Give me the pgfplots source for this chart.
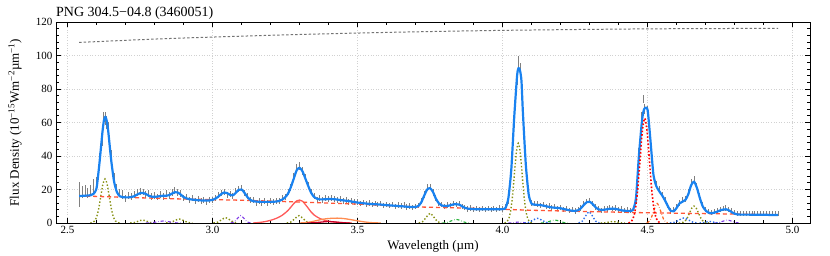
\documentclass[border=0pt]{standalone}
\usepackage{fontspec}
\setmainfont{Liberation Serif}
\usepackage{pgfplots}
\pgfplotsset{compat=1.18}
\usepackage{pgfplotstable}

\definecolor{modelblue}{RGB}{25,130,240}
\definecolor{contred}{RGB}{255,85,55}
\definecolor{olivec}{RGB}{135,145,20}
\definecolor{pahred}{RGB}{255,90,90}
\definecolor{pahorange}{RGB}{255,140,80}
\definecolor{darkredc}{RGB}{200,0,40}
\definecolor{purplec}{RGB}{125,55,230}
\definecolor{greenc}{RGB}{40,180,60}
\definecolor{bluedot}{RGB}{45,110,235}
\definecolor{orangedd}{RGB}{255,100,30}

\pgfplotstableread{
x m d e
2.54 16.1 17.0 7.5
2.55 16.2 18.5 3.5
2.56 16.3 19.5 3.3
2.57 16.4 18.0 3.0
2.58 16.6 19.8 3.0
2.59 17.5 22.0 4.5
2.60 21.0 24.0 3.5
2.61 36.0 38.0 4.0
2.62 54.0 50.0 4.0
2.625 61.0 62.0 4.0
2.63 63.5 62.5 4.0
2.635 61.0 60.0 4.0
2.64 55.0 56.0 4.0
2.65 38.0 40.0 3.5
2.66 25.0 27.0 3.0
2.67 18.5 21.0 2.5
2.68 16.0 18.0 2.5
2.69 15.4 17.0 2.5
2.70 15.3 14.5 2.0
2.71 15.3 16.5 2.0
2.72 15.5 16.0 2.0
2.73 16.0 17.0 2.0
2.74 17.0 18.0 2.0
2.75 17.8 19.0 2.0
2.76 18.0 18.5 2.0
2.77 17.3 17.0 2.0
2.78 16.3 17.5 2.0
2.79 15.7 16.0 2.0
2.80 15.6 16.5 2.0
2.81 15.8 15.5 2.0
2.82 16.1 17.0 2.0
2.83 16.3 16.0 2.0
2.84 16.3 17.5 2.0
2.85 16.6 16.5 2.0
2.86 17.6 18.0 2.0
2.87 18.4 19.5 2.0
2.88 18.2 18.0 2.0
2.89 17.0 17.5 2.0
2.90 15.5 15.0 2.0
2.91 14.7 15.5 1.8
2.92 14.2 14.0 1.8
2.93 14.0 14.8 1.8
2.94 13.8 13.0 1.8
2.95 13.6 14.2 1.8
2.96 13.5 13.0 1.8
2.97 13.4 13.8 1.8
2.98 13.4 12.8 1.8
2.99 13.5 14.0 1.8
3.00 13.8 13.5 1.8
3.01 14.6 15.0 1.8
3.02 15.8 16.5 1.8
3.03 17.3 18.0 1.8
3.04 18.2 18.5 1.8
3.05 17.9 17.0 1.8
3.06 16.8 17.5 1.8
3.07 16.5 16.0 1.8
3.08 18.0 19.0 1.8
3.09 19.8 20.5 1.8
3.10 20.0 21.0 1.8
3.11 18.0 18.0 1.8
3.12 15.5 16.0 1.8
3.13 13.8 13.5 1.8
3.14 13.0 13.5 1.8
3.15 12.8 12.0 1.8
3.16 12.7 13.2 1.8
3.17 12.6 12.0 1.8
3.18 12.6 13.0 1.8
3.19 12.6 12.2 1.8
3.20 12.6 13.0 1.8
3.21 12.7 12.4 1.8
3.22 12.8 13.4 1.8
3.23 13.2 13.0 1.8
3.24 14.0 14.8 1.8
3.25 15.3 15.5 1.8
3.26 17.5 18.5 2.0
3.27 21.5 21.0 2.0
3.28 26.5 27.5 2.2
3.29 31.5 33.0 2.2
3.30 33.0 34.0 2.2
3.31 30.8 31.0 2.2
3.32 26.5 27.0 2.0
3.33 22.0 22.5 2.0
3.34 18.0 18.5 2.0
3.35 15.5 16.0 1.8
3.36 14.5 14.0 1.8
3.37 14.1 14.8 1.8
3.38 14.1 14.0 1.8
3.39 14.2 15.0 1.8
3.40 14.3 14.2 1.8
3.41 14.3 15.0 1.8
3.42 14.2 14.5 1.8
3.43 14.0 13.6 1.8
3.44 13.7 14.4 1.8
3.45 13.5 13.2 1.8
3.46 13.3 13.8 1.8
3.47 13.1 12.8 1.8
3.48 12.8 13.4 1.8
3.49 12.5 12.4 1.8
3.50 12.2 12.8 1.8
3.51 12.0 11.6 1.6
3.52 11.8 12.2 1.6
3.53 11.6 11.4 1.6
3.54 11.4 12.0 1.6
3.55 11.3 11.0 1.6
3.56 11.2 11.6 1.6
3.57 11.1 11.0 1.6
3.58 11.0 11.8 1.6
3.59 10.8 10.6 1.6
3.60 10.7 11.2 1.6
3.61 10.5 10.4 1.6
3.62 10.4 11.0 1.6
3.63 10.3 10.0 1.6
3.64 10.1 10.8 1.6
3.65 10.0 10.2 1.6
3.66 9.9 10.8 1.6
3.67 9.7 9.6 1.6
3.68 9.6 10.2 1.6
3.69 9.5 9.4 1.6
3.70 9.5 10.0 1.6
3.71 10.2 10.5 1.6
3.72 12.5 13.0 1.8
3.73 16.5 17.0 2.0
3.74 20.0 21.0 2.0
3.75 20.8 21.5 2.0
3.76 18.5 18.0 2.0
3.77 14.5 15.0 1.8
3.78 11.8 11.5 1.6
3.79 10.5 11.0 1.6
3.80 10.1 10.0 1.6
3.81 10.2 10.8 1.6
3.82 10.6 10.4 1.6
3.83 11.1 11.6 1.6
3.84 11.2 11.0 1.6
3.85 11.0 11.6 1.6
3.86 10.0 10.0 1.6
3.87 9.0 9.4 1.6
3.88 8.6 8.4 1.6
3.89 8.4 9.0 1.6
3.90 8.3 8.2 1.6
3.91 8.2 8.8 1.6
3.92 8.2 8.0 1.6
3.93 8.2 8.8 1.6
3.94 8.2 8.0 1.6
3.95 8.2 8.6 1.6
3.96 8.2 8.2 1.6
3.97 8.2 8.8 1.6
3.98 8.2 8.0 1.6
3.99 8.2 9.0 1.6
4.00 8.3 8.4 1.6
4.01 9.0 9.6 1.6
4.02 15.0 13.0 1.8
4.03 32.0 34.0 2.5
4.04 63.0 60.0 3.0
4.05 88.0 86.0 3.5
4.055 92.5 96.5 3.3
4.06 91.0 92.0 3.5
4.065 85.0 84.0 3.5
4.07 66.0 68.0 3.0
4.08 35.0 37.0 3.0
4.09 17.0 20.0 2.5
4.10 11.5 12.0 1.8
4.11 11.0 11.5 1.6
4.12 10.8 11.4 1.6
4.13 10.7 10.4 1.6
4.14 10.4 11.0 1.6
4.15 10.0 10.0 1.6
4.16 9.6 10.2 1.6
4.17 9.3 9.2 1.6
4.18 9.1 9.8 1.6
4.19 9.0 8.8 1.6
4.20 8.8 9.4 1.6
4.21 8.4 8.2 1.6
4.22 8.0 8.6 1.6
4.23 7.6 7.6 1.6
4.24 7.3 8.0 1.6
4.25 7.2 7.2 1.6
4.26 7.6 8.2 1.6
4.27 8.8 9.0 1.6
4.28 10.8 11.4 1.6
4.29 12.4 13.0 1.6
4.30 12.7 13.4 1.6
4.31 11.4 11.6 1.6
4.32 9.5 9.6 1.6
4.33 8.2 8.8 1.6
4.34 7.8 7.6 1.6
4.35 7.9 8.6 1.6
4.36 8.2 8.4 1.6
4.37 8.5 9.2 1.6
4.38 8.6 8.6 1.6
4.39 8.4 9.0 1.6
4.40 8.0 8.0 1.6
4.41 7.6 8.4 1.6
4.42 7.3 7.4 1.6
4.43 7.2 8.0 1.6
4.44 7.2 7.6 1.6
4.45 8.0 8.8 1.6
4.46 15.0 14.0 2.0
4.47 40.0 42.0 2.5
4.48 60.0 63.0 3.0
4.485 66.0 74.0 2.5
4.49 68.5 68.0 3.0
4.50 67.5 67.0 3.0
4.51 49.0 52.0 3.0
4.52 29.0 31.0 2.5
4.53 22.0 23.0 2.0
4.54 19.0 20.0 2.0
4.55 16.5 17.0 1.8
4.56 13.5 14.0 1.6
4.57 10.0 10.5 1.6
4.58 7.2 7.5 1.6
4.59 7.0 8.0 1.6
4.60 9.0 10.0 1.6
4.61 11.7 12.0 1.6
4.62 12.7 13.5 1.8
4.63 13.7 14.5 1.8
4.64 17.0 18.0 2.0
4.65 22.5 24.0 2.2
4.66 24.7 26.0 2.2
4.67 21.0 22.0 2.0
4.68 15.0 16.0 2.0
4.69 10.0 10.5 1.8
4.70 7.5 8.2 1.6
4.71 6.2 6.8 1.6
4.72 5.8 6.4 1.6
4.73 6.2 7.0 1.6
4.74 6.8 7.4 1.6
4.75 7.5 8.2 1.6
4.76 8.0 8.6 1.6
4.77 8.2 9.0 1.6
4.78 7.6 8.2 1.6
4.79 6.5 7.2 1.6
4.80 5.6 6.2 1.6
4.81 5.1 5.8 1.6
4.82 5.0 5.6 1.5
4.83 5.0 5.8 1.5
4.84 5.0 5.6 1.5
4.85 5.0 5.8 1.5
4.86 4.9 5.6 1.5
4.87 4.9 5.8 1.5
4.88 4.9 5.6 1.5
4.89 4.9 5.7 1.5
4.90 4.9 5.6 1.5
4.91 4.9 5.8 1.5
4.92 4.8 5.6 1.5
4.93 4.8 5.6 1.5
4.94 4.8 5.7 1.5
4.95 4.8 5.6 1.5
}\spec

\begin{document}
\begin{tikzpicture}
\begin{axis}[
  scale only axis,
  width=754pt, height=201pt,
  xmin=2.46, xmax=5.06, ymin=0, ymax=120,
  xtick={2.5,3.0,3.5,4.0,4.5,5.0},
  ytick={0,20,40,60,80,100,120},
  minor x tick num=4, minor y tick num=4,
  tick align=inside,
  major tick length=5pt, minor tick length=3pt,
  tick style={black, line width=0.6pt},
  axis line style={line width=0.9pt},
  grid=major,
  grid style={black!18, line width=0.5pt, dash pattern=on 1pt off 1.6pt},
  /pgf/number format/assume math mode=true,
  tick label style={font=\fontsize{11}{12}\selectfont},
  xticklabel style={/pgf/number format/.cd, fixed, fixed zerofill, precision=1},
  yticklabel style={/pgf/number format/.cd, fixed, precision=0},
  xlabel={Wavelength (µm)},
  ylabel={Flux Density (10\textsuperscript{−15}Wm\textsuperscript{−2}µm\textsuperscript{−1})},
  every axis x label/.style={at={(axis description cs:0.5,-0.117)}, anchor=center, font=\fontsize{13}{14}\selectfont},
  every axis y label/.style={at={(axis description cs:-0.0544,0.5)}, rotate=90, anchor=center, font=\fontsize{13}{14}\selectfont},
  title={PNG 304.5−04.8 (3460051)},
  every axis title/.style={at={(axis description cs:0,1)}, anchor=base west, yshift=5pt, inner sep=0pt, font=\fontsize{14}{16}\selectfont},
  clip=true,
]
\coordinate (sw) at (rel axis cs:0,0);
\coordinate (ne) at (rel axis cs:1,1);

% top gray dotted curve
\addplot[black!55, line width=1pt, dash pattern=on 2.5pt off 2pt, smooth] coordinates {
(2.54,107.8) (2.8,109.8) (3.0,111.0) (3.25,112.3) (3.5,113.4) (3.75,114.3) (4.0,115.0) (4.25,115.5) (4.5,115.9) (4.75,116.1) (4.95,116.2)};

% observed data with error bars
\addplot[draw=none, mark=none, error bars/.cd, y dir=both, y explicit, error mark=none,
  error bar style={draw=gray, line width=0.9pt}] table[x=x, y=d, y error=e]{\spec};

% olive dotted lines
\pgfplotsset{oliv/.style={olivec, dotted, line width=1.4pt, smooth}}
\addplot[oliv] coordinates {(2.5783,0) (2.5855,0.29) (2.5928,1.15) (2.6,3.56) (2.6073,8.54) (2.6145,15.95) (2.6218,23.21) (2.629,26.3) (2.6363,23.21) (2.6435,15.95) (2.6508,8.54) (2.658,3.56) (2.6653,1.15) (2.6725,0.29) (2.6798,0)};
\addplot[oliv] coordinates {(2.716,0.02) (2.730,0.24) (2.744,1.09) (2.758,1.8) (2.772,1.09) (2.786,0.24) (2.800,0.02)};
\addplot[oliv] coordinates {(2.840,0.03) (2.855,0.32) (2.870,1.46) (2.885,2.4) (2.900,1.46) (2.915,0.32) (2.930,0.03)};
\addplot[oliv] coordinates {(3.003,0.04) (3.017,0.43) (3.031,1.94) (3.045,3.2) (3.059,1.94) (3.073,0.43) (3.087,0.04)};
\addplot[oliv] coordinates {(3.256,0.05) (3.270,0.60) (3.284,2.67) (3.298,4.4) (3.312,2.67) (3.326,0.60) (3.340,0.05)};
\addplot[oliv] coordinates {(3.711,0.06) (3.724,0.78) (3.737,3.52) (3.750,5.8) (3.763,3.52) (3.776,0.78) (3.789,0.06)};
\addplot[oliv] coordinates {(4.0068,0) (4.0135,0.53) (4.0203,2.09) (4.027,6.44) (4.0338,15.46) (4.0405,28.87) (4.0473,42.01) (4.054,47.6) (4.0608,42.01) (4.0675,28.87) (4.0743,15.46) (4.081,6.44) (4.0878,2.09) (4.0945,0.53) (4.1013,0)};
\addplot[oliv] coordinates {(4.338,0.01) (4.352,0.12) (4.366,0.55) (4.38,0.9) (4.394,0.55) (4.408,0.12) (4.422,0.01)};
\addplot[oliv] coordinates {(4.6075,0) (4.615,0.11) (4.6225,0.44) (4.63,1.37) (4.6375,3.28) (4.645,6.13) (4.6525,8.91) (4.66,10.1) (4.6675,8.91) (4.675,6.13) (4.6825,3.28) (4.69,1.37) (4.6975,0.44) (4.705,0.11) (4.7125,0)};

% PAH-like solid components
\addplot[pahred, line width=1.3pt, smooth] coordinates {
(3.14,0) (3.16,0.3) (3.18,0.8) (3.20,1.6) (3.22,2.8) (3.24,4.6) (3.26,7.5) (3.27,9.5) (3.28,11.6) (3.29,13.2) (3.30,13.7) (3.31,13.0) (3.32,11.0) (3.33,8.8) (3.34,6.5) (3.35,4.8) (3.36,3.6) (3.37,2.7) (3.38,2.0) (3.40,1.0) (3.42,0.6) (3.45,0.2) (3.48,0)};
\addplot[pahorange, line width=1.3pt, smooth] coordinates {
(3.30,0) (3.33,0.4) (3.35,1.1) (3.37,1.9) (3.39,2.5) (3.41,2.8) (3.43,2.9) (3.45,2.7) (3.47,2.2) (3.49,1.6) (3.51,1.0) (3.53,0.5) (3.55,0.2) (3.58,0)};
\addplot[darkredc, line width=1.3pt, smooth] coordinates {
(3.325,0.01) (3.35,0.12) (3.375,0.55) (3.40,0.9) (3.425,0.55) (3.45,0.12) (3.475,0.01)};

% purple dash-dot
\pgfplotsset{purp/.style={purplec, dashdotted, line width=1.1pt, smooth}}
\addplot[purp] coordinates {(2.77,0.01) (2.79,0.16) (2.81,0.73) (2.83,1.2) (2.85,0.73) (2.87,0.16) (2.89,0.01)};
\addplot[purp] coordinates {(3.0625,0.05) (3.074,0.60) (3.0855,2.67) (3.097,4.4) (3.1085,2.67) (3.12,0.60) (3.1315,0.05)};
\addplot[purp] coordinates {(4.02,0.01) (4.032,0.08) (4.044,0.36) (4.056,0.6) (4.068,0.36) (4.08,0.08) (4.092,0.01)};
\addplot[purp] coordinates {(4.73,0.02) (4.745,0.24) (4.76,1.09) (4.775,1.8) (4.79,1.09) (4.805,0.24) (4.82,0.02)};

% green dash-dot
\pgfplotsset{grn/.style={greenc, dashdotted, line width=1.1pt, smooth}}
\addplot[grn] coordinates {(3.792,0.02) (3.808,0.30) (3.824,1.33) (3.84,2.2) (3.856,1.33) (3.872,0.30) (3.888,0.02)};
\addplot[grn] coordinates {(4.132,0.02) (4.148,0.24) (4.164,1.09) (4.18,1.8) (4.196,1.09) (4.212,0.24) (4.228,0.02)};

% blue dotted
\pgfplotsset{bdot/.style={bluedot, dotted, line width=1.4pt, smooth}}
\addplot[bdot] coordinates {(4.075,0.03) (4.09,0.38) (4.105,1.70) (4.12,2.8) (4.135,1.70) (4.15,0.38) (4.165,0.03)};
\addplot[bdot] coordinates {(4.262,0.08) (4.274,0.92) (4.286,4.12) (4.298,6.8) (4.31,4.12) (4.322,0.92) (4.334,0.08)};
\addplot[bdot] coordinates {(4.577,0.03) (4.593,0.41) (4.609,1.82) (4.625,3.0) (4.641,1.82) (4.657,0.41) (4.673,0.03)};
\addplot[bdot] coordinates {(4.679,0.01) (4.691,0.12) (4.703,0.55) (4.715,0.9) (4.727,0.55) (4.739,0.12) (4.751,0.01)};

% orange dash-dot 4.53
\addplot[orangedd, dashdotted, line width=1.2pt, smooth] coordinates {
(4.497,0.13) (4.509,1.58) (4.521,7.1) (4.533,11.7) (4.545,7.1) (4.557,1.58) (4.569,0.13)};

% continuum
\addplot[contred, line width=1.3pt, dash pattern=on 4pt off 3pt] coordinates {
(2.54,16.2) (2.7,15.3) (2.9,14.3) (3.1,13.6) (3.3,12.5) (3.5,11.3) (3.7,9.6) (3.9,8.8) (4.1,7.6) (4.3,6.8) (4.5,6.1) (4.7,5.6) (4.95,4.9)};

% model
\addplot[modelblue, line width=2.2pt, smooth, tension=0.4, line join=round] table[x=x, y=m]{\spec};

% red dotted 4.49
\addplot[red, dotted, line width=1.6pt, smooth] coordinates {
(4.434,0) (4.442,0.69) (4.450,2.74) (4.458,8.46) (4.466,20.29) (4.474,37.91) (4.482,55.16) (4.490,62.5) (4.498,55.16) (4.506,37.91) (4.514,20.29) (4.522,8.46) (4.530,2.74) (4.538,0.69) (4.546,0)};
\end{axis}
\pgfresetboundingbox
\path ([xshift=-56pt,yshift=-33pt]sw) rectangle ([xshift=20pt,yshift=22pt]ne);
\end{tikzpicture}
\end{document}
